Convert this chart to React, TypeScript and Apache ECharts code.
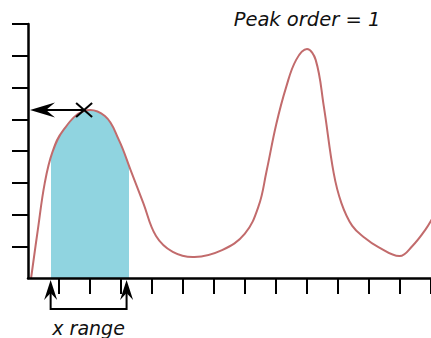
import React, { useEffect, useRef } from "react";
import * as echarts from "echarts";

// curve samples (x and y in tick units)
const curveX = [0.10, 0.32, 0.54, 0.79, 1.14, 1.81, 2.48, 2.93, 3.31, 3.72, 4.13, 4.67, 5.37, 6.26, 6.99, 7.44, 7.69, 8.01, 8.33, 8.65, 9.00, 9.28, 9.54, 9.86, 10.11, 10.46, 10.87, 11.29, 11.99, 12.40, 12.81, 13.10];
const curveY = [0, 1.54, 2.99, 3.97, 4.66, 5.26, 5.10, 4.35, 3.40, 2.36, 1.32, 0.82, 0.66, 0.88, 1.39, 2.27, 3.34, 4.85, 6.02, 6.87, 7.21, 6.87, 5.42, 3.31, 2.36, 1.64, 1.26, 0.98, 0.69, 1.01, 1.51, 1.98];

const xTicks = ["0", "1", "2", "3", "4", "5", "6", "7", "8", "9", "10", "11", "12", "13"];
const yTicks = ["0", "1", "2", "3", "4", "5", "6", "7", "8"];

const fillRange = [0.74, 3.25];
const arrowRange = [0.73, 3.18];
const peakPoint = [1.81, 5.29];

const titleText = "Peak order = 1";
const rangeText = "x range";

const LINE = "#c26b6c";
const FILL = "#90d4e0";
const SMOOTH = 0.4;

export default function App() {
  const ref = useRef<HTMLDivElement>(null);
  useEffect(() => {
    const chart = echarts.init(ref.current!, null, { renderer: "svg" });
    const axisCommon = {
      type: "category",
      boundaryGap: false,
      axisLine: { onZero: false, lineStyle: { color: "#000", width: 2.5 } },
      axisTick: { interval: (i: number) => i !== 0, length: 16, lineStyle: { color: "#000", width: 2 } },
      axisLabel: { show: false },
      splitLine: { show: false },
      z: 10,
    };
    chart.setOption({
      animation: false,
      backgroundColor: "#ffffff",
      grid: { left: 28, top: 24, right: -6, bottom: 60 },
      xAxis: [
        { type: "value", min: 0, max: 13, show: false },
        { ...axisCommon, data: xTicks, position: "bottom" },
      ],
      yAxis: [
        { type: "value", min: 0, max: 8, show: false },
        { ...axisCommon, data: yTicks, position: "left" },
      ],
      series: [
        {
          type: "custom",
          coordinateSystem: "cartesian2d",
          xAxisIndex: 0,
          yAxisIndex: 0,
          silent: true,
          data: [[0, 0]],
          renderItem: (_params: any, api: any) => {
            const pts = curveX.map((x, i) => api.coord([x, curveY[i]]));
            const base = api.coord([curveX[curveX.length - 1], 0]);
            const W = 1000;
            const a = api.coord([fillRange[0], 0])[0] / W;
            const b = api.coord([fillRange[1], 0])[0] / W;
            const clear = "rgba(0,0,0,0)";
            return {
              type: "group",
              children: [
                {
                  type: "polyline",
                  shape: { points: [...pts, base], smooth: SMOOTH },
                  style: {
                    stroke: "none",
                    fill: {
                      type: "linear",
                      x: 0,
                      y: 0,
                      x2: W,
                      y2: 0,
                      global: true,
                      colorStops: [
                        { offset: 0, color: clear },
                        { offset: a, color: clear },
                        { offset: a, color: FILL },
                        { offset: b, color: FILL },
                        { offset: b, color: clear },
                        { offset: 1, color: clear },
                      ],
                    },
                  },
                  z2: 1,
                },
                {
                  type: "polyline",
                  shape: { points: pts, smooth: SMOOTH },
                  style: { fill: "none", stroke: LINE, lineWidth: 2 },
                  z2: 2,
                },
              ],
            };
          },
        },
      ],
    });

    const px = (p: number[]) => chart.convertToPixel({ seriesIndex: 0 }, p) as number[];
    const [pkX, pkY] = px(peakPoint);
    const [ox, oy] = px([0, 0]);
    const tipX = ox + 2;
    const r1 = px([arrowRange[0], 0])[0];
    const r2 = px([arrowRange[1], 0])[0];
    const stroke = { stroke: "#000", lineWidth: 2 };
    const upArrow = (x: number) => ({
      type: "polygon",
      shape: { points: [[x, oy + 2], [x - 6.5, oy + 22], [x, oy + 15], [x + 6.5, oy + 22]] },
      style: { fill: "#000" },
      z: 20,
    });
    chart.setOption({
      graphic: [
        {
          type: "line",
          shape: { x1: tipX + 14, y1: pkY, x2: pkX, y2: pkY },
          style: stroke,
          z: 20,
        },
        {
          type: "polygon",
          shape: { points: [[tipX, pkY], [tipX + 25, pkY - 7.5], [tipX + 16, pkY], [tipX + 25, pkY + 7.5]] },
          style: { fill: "#000" },
          z: 20,
        },
        { type: "line", shape: { x1: pkX - 8, y1: pkY - 7, x2: pkX + 8, y2: pkY + 7 }, style: stroke, z: 20 },
        { type: "line", shape: { x1: pkX - 8, y1: pkY + 7, x2: pkX + 8, y2: pkY - 7 }, style: stroke, z: 20 },
        upArrow(r1),
        upArrow(r2),
        {
          type: "polyline",
          shape: { points: [[r1, oy + 14], [r1, oy + 31], [r2, oy + 31], [r2, oy + 14]] },
          style: { ...stroke, fill: "none" },
          z: 20,
        },
        {
          type: "text",
          x: (r1 + r2) / 2,
          y: oy + 50,
          style: { text: rangeText, font: 'italic 19px "DejaVu Sans"', fill: "#111", align: "center", verticalAlign: "middle" },
          z: 20,
        },
        {
          type: "text",
          x: 307,
          y: 19,
          style: { text: titleText, font: 'italic 19.5px "DejaVu Sans"', fill: "#111", align: "center", verticalAlign: "middle" },
          z: 20,
        },
      ],
    });
    return () => chart.dispose();
  }, []);
  return <div ref={ref} style={{ position: "fixed", left: 0, top: 0, width: 431, height: 338 }} />;
}
